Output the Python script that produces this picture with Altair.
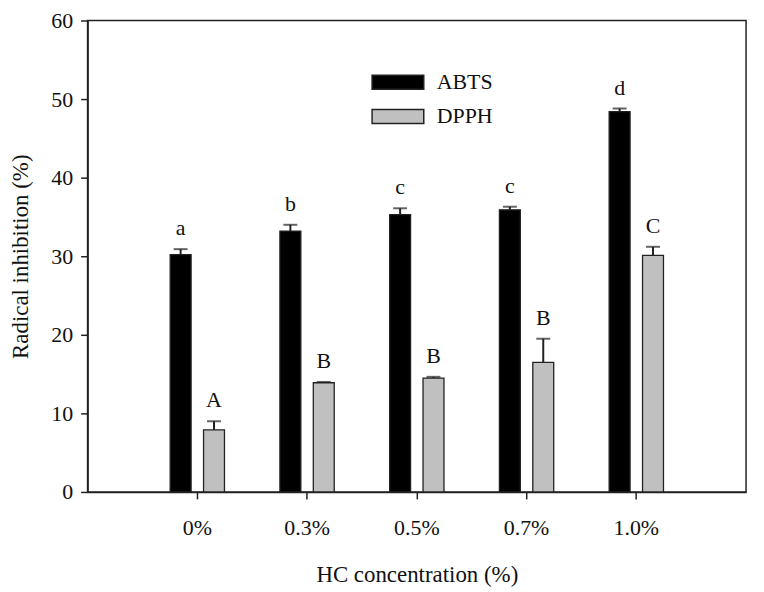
import altair as alt
import pandas as pd

conc = ["0%", "0.3%", "0.5%", "0.7%", "1.0%"]
series = ["ABTS", "DPPH"]
abts = [30.2, 33.2, 35.3, 35.9, 48.4]
abts_err = [0.7, 0.8, 0.8, 0.4, 0.4]
dpph = [7.9, 13.9, 14.5, 16.5, 30.1]
dpph_err = [1.1, 0.1, 0.15, 3.0, 1.1]
abts_letters = ["a", "b", "c", "c", "d"]
dpph_letters = ["A", "B", "B", "B", "C"]

rows = []
for i, c in enumerate(conc):
    rows.append({"conc": c, "series": "ABTS", "value": abts[i], "err": abts_err[i], "letter": abts_letters[i]})
    rows.append({"conc": c, "series": "DPPH", "value": dpph[i], "err": dpph_err[i], "letter": dpph_letters[i]})
df = pd.DataFrame(rows)
df["top"] = df["value"] + df["err"]

FONT = "Liberation Serif"

x = alt.X("conc:N", sort=conc,
          scale=alt.Scale(paddingInner=0, paddingOuter=0.5),
          axis=alt.Axis(title="HC concentration (%)", labelAngle=0, labelFontSize=22,
                        labelPadding=19, titlePadding=25, tickSize=7))
xo = alt.XOffset("series:N", sort=series,
                 scale=alt.Scale(paddingInner=0.373, paddingOuter=0.83))
yscale = alt.Scale(domain=[0, 60], nice=False)

bars = alt.Chart(df).mark_bar(stroke="#222", strokeWidth=1.3).encode(
    x=x, xOffset=xo,
    y=alt.Y("value:Q", scale=yscale,
            axis=alt.Axis(title="Radical inhibition (%)", values=[0, 10, 20, 30, 40, 50, 60],
                          labelFontSize=22, labelPadding=8, titlePadding=18, tickSize=7)),
    color=alt.Color("series:N", sort=series,
                    scale=alt.Scale(domain=series, range=["#000000", "#c0c0c0"]),
                    legend=alt.Legend(title=None, orient="none", legendX=285, legendY=52,
                                      symbolType="M-1,-0.27L1,-0.27L1,0.27L-1,0.27Z",
                                      symbolSize=2704, symbolStrokeColor="#222",
                                      symbolStrokeWidth=1.5, labelFontSize=22, labelFont=FONT,
                                      labelOffset=12, clipHeight=20, rowPadding=12.5,
                                      labelColor="#111")),
)

err_line = alt.Chart(df).mark_rule(color="#222", strokeWidth=2).encode(
    x=x, xOffset=xo, y=alt.Y("value:Q", scale=yscale), y2="top:Q")

err_cap = alt.Chart(df).mark_tick(color="#222", thickness=2, size=14).encode(
    x=x, xOffset=xo, y=alt.Y("top:Q", scale=yscale))

labels = alt.Chart(df).mark_text(font=FONT, fontSize=22, baseline="middle", dy=-21, color="#111").encode(
    x=x, xOffset=xo, y=alt.Y("top:Q", scale=yscale), text="letter:N")

chart = alt.layer(bars, err_line, err_cap, labels).properties(
    width=662, height=474,
    autosize=alt.AutoSizeParams(type="none"),
    padding={"left": 80, "top": 11, "right": 10, "bottom": 95},
).configure_axis(
    labelFont=FONT, titleFont=FONT, titleFontSize=23, titleFontWeight="normal",
    labelColor="#111", titleColor="#111", domainColor="#222", tickColor="#222",
    domainWidth=1.5, tickWidth=1.5, grid=False,
).configure_view(stroke="#222", strokeWidth=1.5)

chart.save("out.html", embed_options={"renderer": "svg", "actions": False})
